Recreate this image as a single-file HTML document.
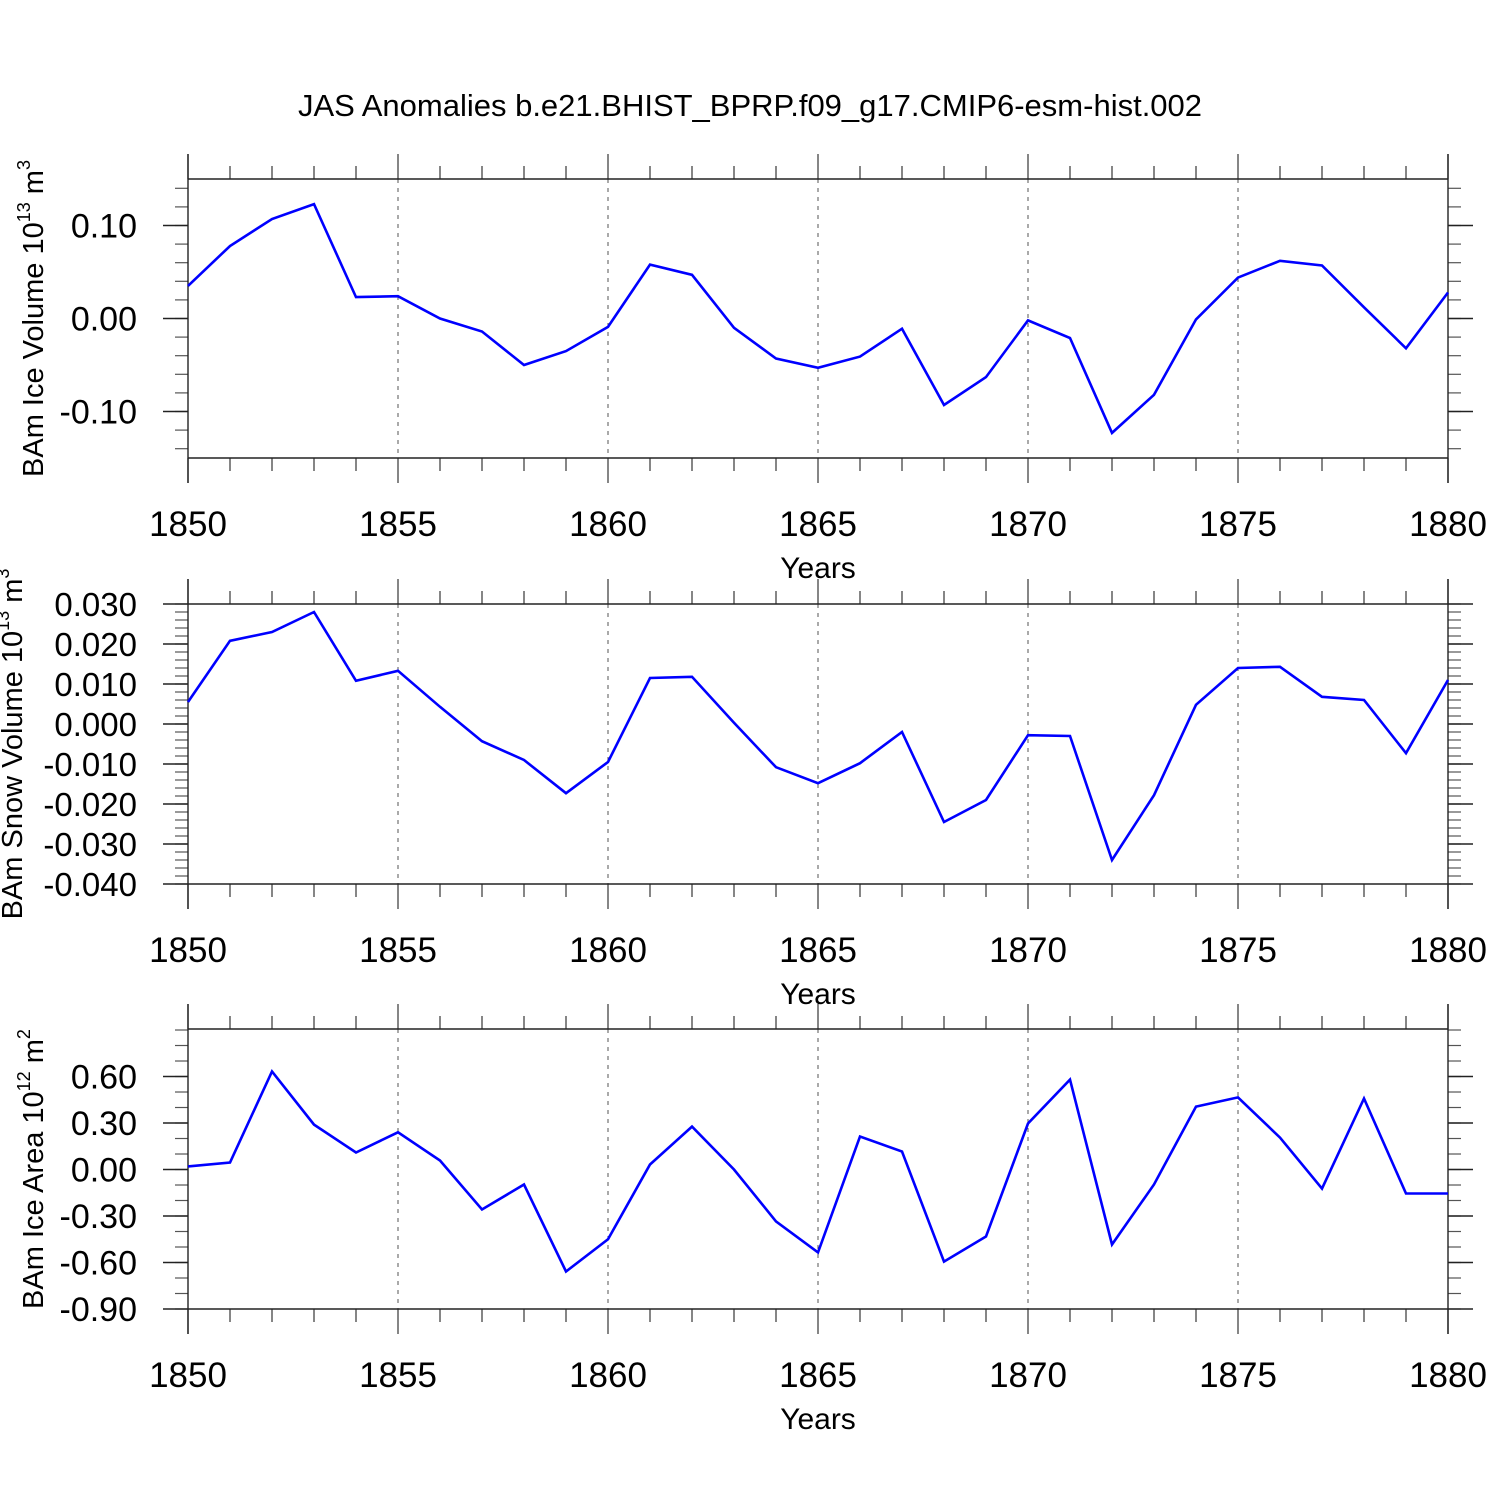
<!DOCTYPE html>
<html><head><meta charset="utf-8"><style>
html,body{margin:0;padding:0;background:#fff;}
svg{display:block;font-family:"Liberation Sans",Arial,sans-serif;}
</style></head><body>
<svg id="chart" width="1500" height="1500" viewBox="0 0 1500 1500" xmlns="http://www.w3.org/2000/svg">
<rect width="1500" height="1500" fill="#fff"/>
<text x="750" y="116" font-size="31" text-anchor="middle">JAS Anomalies b.e21.BHIST_BPRP.f09_g17.CMIP6-esm-hist.002</text>
</svg>
<script>
const years = [1850,1851,1852,1853,1854,1855,1856,1857,1858,1859,1860,1861,1862,1863,1864,1865,1866,1867,1868,1869,1870,1871,1872,1873,1874,1875,1876,1877,1878,1879,1880];
const iceVolume = [0.035,0.078,0.107,0.123,0.023,0.024,0.0,-0.014,-0.050,-0.035,-0.009,0.058,0.047,-0.010,-0.043,-0.053,-0.041,-0.011,-0.093,-0.063,-0.002,-0.021,-0.123,-0.082,-0.001,0.044,0.062,0.057,0.012,-0.032,0.028];
const snowVolume = [0.0055,0.0208,0.023,0.028,0.0108,0.0133,0.0043,-0.0043,-0.009,-0.0173,-0.0095,0.0115,0.0118,0.0003,-0.0108,-0.0148,-0.0098,-0.002,-0.0245,-0.019,-0.0028,-0.003,-0.034,-0.0178,0.0048,0.014,0.0143,0.0068,0.006,-0.0073,0.011];
const iceArea = [0.02,0.045,0.632,0.29,0.11,0.24,0.058,-0.258,-0.097,-0.658,-0.45,0.032,0.277,0.0,-0.335,-0.535,0.213,0.116,-0.594,-0.432,0.297,0.58,-0.484,-0.097,0.406,0.465,0.206,-0.123,0.458,-0.155,-0.155];
const xTickLabels = ["1850","1855","1860","1865","1870","1875","1880"];
const volTicks = [-0.10,0.00,0.10];
const volTickLabels = ["-0.10","0.00","0.10"];
const snowTicks = [-0.04,-0.03,-0.02,-0.01,0,0.01,0.02,0.03];
const snowTickLabels = ["-0.040","-0.030","-0.020","-0.010","0.000","0.010","0.020","0.030"];
const areaTicks = [-0.9,-0.6,-0.3,0,0.3,0.6];
const areaTickLabels = ["-0.90","-0.60","-0.30","0.00","0.30","0.60"];

const svg = document.getElementById('chart');
const NS = 'http://www.w3.org/2000/svg';
function mk(tag, attrs, parent){const e=document.createElementNS(NS,tag);for(const k in attrs)e.setAttribute(k,attrs[k]);(parent||svg).appendChild(e);return e;}
const X0=188,X1=1448;
function xs(y){return X0+(y-1850)/(1880-1850)*(X1-X0);}

function panel(name, top, bot, ymin, ymax, minorStep, ticks, labels, series, titleMain, exp, unit, titleX, labelSize){
  const g=mk('g',{});
  
  
  const ys=v=>bot-(v-ymin)/(ymax-ymin)*(bot-top);
  for(let yr=1855;yr<1880;yr+=5){
    const l=mk('line',{x1:xs(yr),x2:xs(yr),y1:top,y2:bot,stroke:'#555','stroke-width':1,'stroke-dasharray':'4,5'},g);
    
    
  }
  for(let yr=1850;yr<=1880;yr++){
    const len=(yr%5===0)?25:13;
    mk('line',{x1:xs(yr),x2:xs(yr),y1:top,y2:top-len,stroke:'#444','stroke-width':1.3},g);
    mk('line',{x1:xs(yr),x2:xs(yr),y1:bot,y2:bot+len,stroke:'#444','stroke-width':1.3},g);
  }
  const n0=Math.ceil(ymin/minorStep-1e-6), n1=Math.floor(ymax/minorStep+1e-6);
  for(let i=n0;i<=n1;i++){
    const y=ys(i*minorStep);
    mk('line',{x1:X0,x2:X0-13,y1:y,y2:y,stroke:'#555','stroke-width':1.2},g);
    mk('line',{x1:X1,x2:X1+13,y1:y,y2:y,stroke:'#555','stroke-width':1.2},g);
  }
  ticks.forEach((t,i)=>{
    const y=ys(t);
    mk('line',{x1:X0,x2:X0-25,y1:y,y2:y,stroke:'#222','stroke-width':1.4},g);
    mk('line',{x1:X1,x2:X1+25,y1:y,y2:y,stroke:'#222','stroke-width':1.4},g);
    const tx=mk('text',{x:137,y:y+12,'font-size':labelSize,'text-anchor':'end'},g);
    tx.textContent=labels[i];
    
    
  });
  mk('line',{x1:X0,x2:X1,y1:top,y2:top,stroke:'#222','stroke-width':1.4},g);
  mk('line',{x1:X0,x2:X1,y1:bot,y2:bot,stroke:'#222','stroke-width':1.4},g);
  mk('line',{x1:X0,x2:X0,y1:top-25,y2:bot+25,stroke:'#222','stroke-width':1.4},g);
  mk('line',{x1:X1,x2:X1,y1:top-25,y2:bot+25,stroke:'#222','stroke-width':1.4},g);
  xTickLabels.forEach(s=>{
    const tx=mk('text',{x:xs(+s),y:bot+78,'font-size':35,'text-anchor':'middle'},g);
    tx.textContent=s;
    
    
  });
  const xt=mk('text',{x:818,y:bot+120,'font-size':30,'text-anchor':'middle'},g);
  xt.textContent='Years';
  
  
  const cy=(top+bot)/2;
  const yt=mk('text',{x:0,y:0,'font-size':29,'text-anchor':'middle',transform:`translate(${titleX},${cy}) rotate(-90)`},g);
  
  
  const t1=mk('tspan',{},yt); t1.textContent=titleMain+' 10';
  const t2=mk('tspan',{dy:-13,'font-size':18},yt); t2.textContent=exp;
  const t3=mk('tspan',{dy:13},yt); t3.textContent=' m';
  const t4=mk('tspan',{dy:-13,'font-size':18},yt); t4.textContent=unit;
  const pts=years.map((yr,i)=>xs(yr).toFixed(1)+','+ys(series[i]).toFixed(1)).join(' ');
  const pl=mk('polyline',{points:pts,fill:'none',stroke:'#0000ff','stroke-width':2.6,'stroke-linejoin':'miter'},g);
  
  
}
panel('ice-volume',179,458,-0.15,0.15,0.02,volTicks,volTickLabels,iceVolume,'BAm Ice Volume','13','3',43,34);
panel('snow-volume',604,884,-0.04,0.03,0.002,snowTicks,snowTickLabels,snowVolume,'BAm Snow Volume','13','3',22,33);
panel('ice-area',1029,1309,-0.9,0.9065,0.1,areaTicks,areaTickLabels,iceArea,'BAm Ice Area','12','2',43,34);
</script>
</body></html>
